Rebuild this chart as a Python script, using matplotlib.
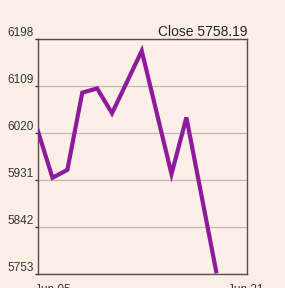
import matplotlib
matplotlib.use("Agg")
import matplotlib.pyplot as plt

x_index = [0, 1, 2, 3, 4, 5, 7, 9, 10, 12]
close = [6025, 5935, 5950, 6096, 6104, 6057, 6175, 5942, 6049, 5758.19]
y_ticks = [5753, 5842, 5931, 6020, 6109, 6198]
x_tick_pos = [1, 14]
x_tick_labels = ["Jun 05", "Jun 21"]
title = "Close 5758.19"

bg = "#fcf0e6"
plt.rcParams['font.family'] = ['Liberation Sans', 'DejaVu Sans']
fig = plt.figure(figsize=(2.85, 2.88), dpi=100, facecolor=bg)
ax = fig.add_axes([0.132, 0.0486, 0.735, 0.817], facecolor=bg)

ax.plot(x_index, close, color="#8e1a9e", lw=3, solid_joinstyle='miter', zorder=3)
ax.set_xlim(0, 14.08)
ax.set_ylim(5753, 6198)
ax.set_yticks(y_ticks)
ax.set_yticklabels([str(v) for v in y_ticks])
for lab in ax.get_yticklabels():
    lab.set_verticalalignment('bottom')
ax.tick_params(axis='y', length=2, width=1, pad=1, labelsize=8.5, colors='#333333')
ax.grid(axis='y', color='#c2b8ae', lw=0.9)
ax.set_xticks(x_tick_pos)
ax.set_xticklabels(x_tick_labels)
ax.tick_params(axis='x', length=0, pad=7, labelsize=8.5, colors='#333333')
for s in ax.spines.values():
    s.set_color('#5a4c44')
    s.set_linewidth(1)
ax.set_title(title, loc='right', fontsize=10, pad=1, color='#222222')
fig.savefig("out.png", dpi=100, facecolor=bg)
